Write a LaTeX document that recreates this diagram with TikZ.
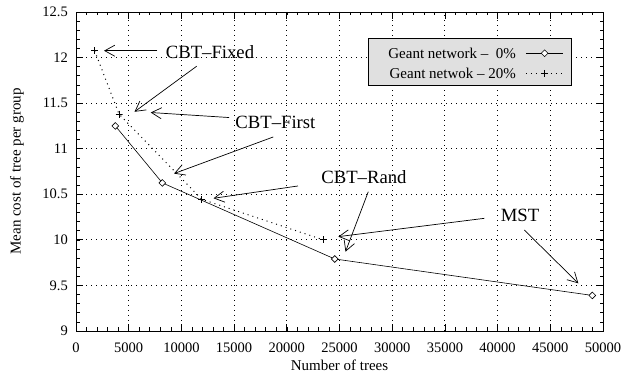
\documentclass[tikz,border=0pt]{standalone}
\usepackage{fontspec}
\setmainfont{Liberation Serif}
\usetikzlibrary{arrows.meta,shapes.geometric}

\tikzset{
  ticklabel/.style={font=\fontsize{14.5}{16}\selectfont, inner sep=0pt},
  axislabel/.style={font=\fontsize{15}{17}\selectfont, inner sep=0pt},
  notelabel/.style={font=\fontsize{18.7}{21}\selectfont, inner sep=0pt},
  gridline/.style={line width=0.9pt, dash pattern=on 0.9pt off 4.1pt},
  solidline/.style={line width=0.6pt},
  dotline/.style={line width=1pt, dash pattern=on 1pt off 4pt},
  noteline/.style={line width=0.7pt, -{Straight Barb[length=10pt,width=11pt]}},
  diamark/.style={diamond, draw, fill=white, line width=0.6pt, inner sep=0pt,
    minimum width=7pt, minimum height=7pt},
  plusmark/.style={inner sep=0pt, minimum size=7pt,
    path picture={\draw[line width=0.7pt]
      (path picture bounding box.north) -- (path picture bounding box.south)
      (path picture bounding box.west) -- (path picture bounding box.east);}},
}

\begin{document}
\begin{tikzpicture}[x=10.54pt, y=91.14pt]
			%%%%% START %%%%%
			\useasboundingbox (-7.211,8.5501) rectangle (52.087,12.6317);
			
			% grid
			\foreach \x in {5,10,...,45} \draw[gridline] (\x,9) -- (\x,12.5);
			\foreach \v in {9.5,10,...,12} \draw[gridline] (0,\v) -- (50,\v);
			
			% legend
			\draw[fill=black!12, line width=0.8pt] (27.73,11.699) rectangle (46.96,12.211);
			\node[axislabel, anchor=east] (leg1) at (41.75,12.047) {Geant network – \ 0\%};
			\node[axislabel, anchor=east] (leg2) at (41.75,11.827) {Geant netwok – 20\%};
			\coordinate (ls1a) at (42.69,12.047);
			\coordinate (ls1b) at (46.23,12.047);
			\coordinate (ls2a) at (42.69,11.827);
			\coordinate (ls2b) at (46.23,11.827);
			\draw[solidline] (ls1a) -- (ls1b);
			\draw[dotline] (ls2a) -- (ls2b);
			\node[diamark] (lm1) at (44.46,12.047) {};
			\node[plusmark] (lm2) at (44.46,11.827) {};
			
			% Geant network - 20%
			\node[plusmark] (p1) at (1.77,12.075) {};
			\node[plusmark] (p2) at (4.08,11.38) {};
			\node[plusmark] (p3) at (11.93,10.445) {};
			\node[plusmark] (p4) at (23.47,10.0) {};
			\draw[dotline] (p1.center) -- (p2.center) -- (p3.center) -- (p4.center);
			
			% Geant network - 0%
			\node[diamark] (d1) at (3.73,11.25) {};
			\node[diamark] (d2) at (8.19,10.625) {};
			\node[diamark] (d3) at (24.55,9.79) {};
			\node[diamark] (d4) at (48.99,9.39) {};
			\draw[solidline] (d1) -- (d2) -- (d3) -- (d4);
			
			% notes
			\node[notelabel] (fixed) at (12.71,12.061) {CBT–Fixed};
			\node[notelabel] (first) at (18.92,11.284) {CBT–First};
			\node[notelabel] (rand) at (27.32,10.693) {CBT–Rand};
			\node[notelabel] (mst) at (42.13,10.265) {MST};
			
			\coordinate (fixA) at (7.71,12.075);
			\coordinate (fixB) at (2.66,12.075);
			\coordinate (fixC) at (11.45,11.905);
			\coordinate (fixD) at (5.55,11.405);
			\coordinate (firA) at (14.52,11.342);
			\coordinate (firB) at (7.09,11.397);
			\coordinate (firC) at (18.72,11.129);
			\coordinate (firD) at (9.30,10.727);
			\coordinate (ranA) at (21.06,10.591);
			\coordinate (ranB) at (13.05,10.456);
			\coordinate (ranC) at (27.73,10.528);
			\coordinate (ranD) at (25.57,9.87);
			\coordinate (mstA) at (38.74,10.236);
			\coordinate (mstB) at (24.89,10.035);
			\coordinate (mstC) at (42.53,10.108);
			\coordinate (mstD) at (47.66,9.523);
			
			\draw[noteline] (fixA) -- (fixB);
			\draw[noteline] (fixC) -- (fixD);
			\draw[noteline] (firA) -- (firB);
			\draw[noteline] (firC) -- (firD);
			\draw[noteline] (ranA) -- (ranB);
			\draw[noteline] (ranC) -- (ranD);
			\draw[noteline] (mstA) -- (mstB);
			\draw[noteline] (mstC) -- (mstD);
			
			% frame and ticks
			\draw[line width=0.8pt] (0,9) rectangle (50,12.5);
			\foreach \i in {1,...,49} {
				\draw[line width=0.6pt] (\i,9) -- ++(0,3.5pt);
				\draw[line width=0.6pt] (\i,12.5) -- ++(0,-3.5pt);
			}
			\foreach \k in {1,...,34} {
				\draw[line width=0.6pt] (0,9+\k/10) -- ++(3.5pt,0);
				\draw[line width=0.6pt] (50,9+\k/10) -- ++(-3.5pt,0);
			}
			\foreach \x in {5,10,...,45} {
				\draw[line width=0.7pt] (\x,9) -- ++(0,7pt);
				\draw[line width=0.7pt] (\x,12.5) -- ++(0,-7pt);
			}
			\foreach \v in {9.5,10,...,12} {
				\draw[line width=0.7pt] (0,\v) -- ++(7pt,0);
				\draw[line width=0.7pt] (50,\v) -- ++(-7pt,0);
			}
			
			% tick labels
			\foreach \x/\t in {0/0,5/5000,10/10000,15/15000,20/20000,25/25000,
				30/30000,35/35000,40/40000,45/45000,50/50000}
				\node[ticklabel] (xt\x) at (\x,8.813) {\t};
			\foreach \v [count=\k] in {9,9.5,10,10.5,11,11.5,12,12.5}
				\node[ticklabel, anchor=east] (yt\k) at ([xshift=-8pt]0,\v) {\v};
			
			\node[axislabel] (xlab) at (25,8.627) {Number of trees};
			\node[axislabel, rotate=90] (ylab) at (-5.60,10.75) {Mean cost of tree per group};
			
			%%%%% END %%%%%
\end{tikzpicture}
\end{document}
